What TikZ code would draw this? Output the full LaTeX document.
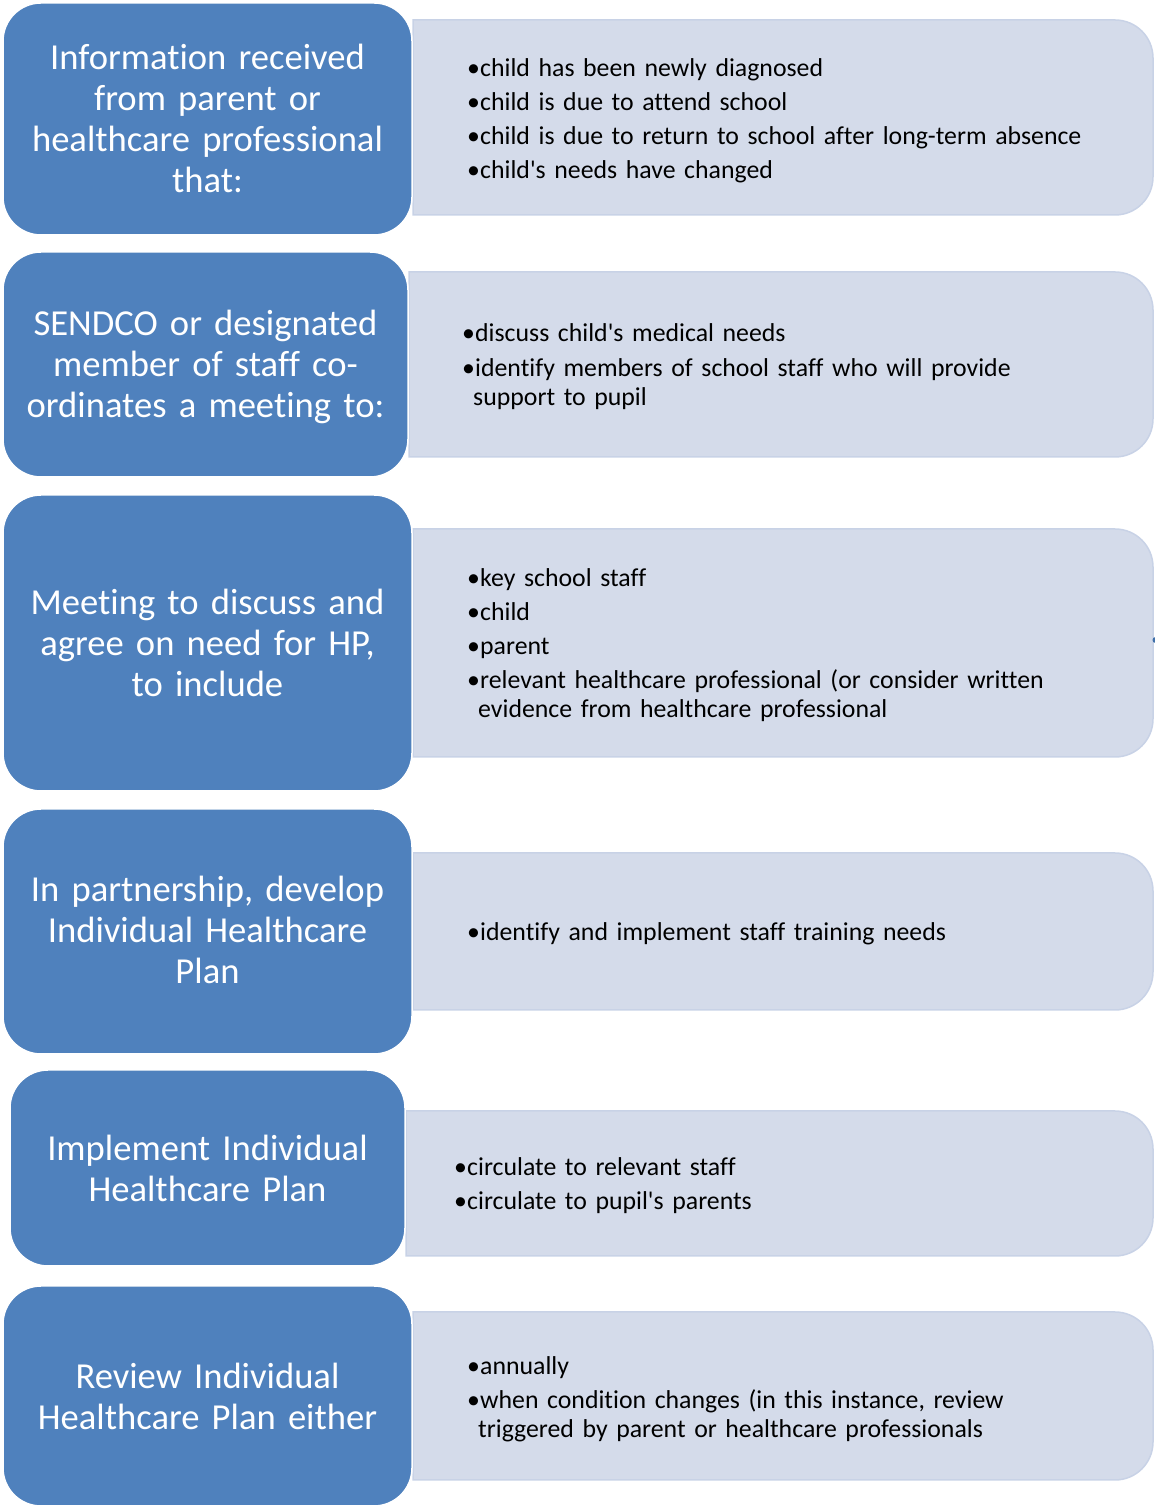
\documentclass[tikz,border=0pt]{standalone}
\usepackage{fontspec}
\setmainfont{Carlito}[Ligatures={CommonOff,TeXOff}]
\definecolor{stepblue}{HTML}{4F81BD}
\definecolor{detailfill}{HTML}{D4DBEA}
\definecolor{detailedge}{HTML}{C8D2E6}
\definecolor{dotblue}{HTML}{3F6FA8}

\tikzset{
  stagebox/.style={draw=white, line width=1.5pt, fill=stepblue, rounded corners=38pt, inner sep=0pt},
  stagetext/.style={text=white, font=\fontsize{36.6}{40.7}\selectfont, align=center,
    text width=400pt, inner sep=0pt, anchor=base},
  detailbox/.style={fill=detailfill, draw=detailedge, line width=1.5pt},
  detailtext/.style={text=black, font=\fontsize{25.8}{29}\selectfont, align=left,
    text width=700pt, inner sep=0pt, anchor=base west},
}
% bullet with hanging text, and the indent of a wrapped line
\newcommand{\bul}{\makebox[13pt][l]{•}}
\newcommand{\cont}{\hspace*{11pt}}
% panel with square left side and rounded right side: x0, top, bottom
\newcommand{\detailpanel}[3]{%
  \path[detailbox] (#1,#2) -- (1115,#2) arc[start angle=90, end angle=0, radius=38pt]
    -- (1153,{#3+38}) arc[start angle=0, end angle=-90, radius=38pt]
    -- (#1,#3) -- cycle;}

\begin{document}
\begin{tikzpicture}[x=1pt, y=1pt]
\useasboundingbox (0,0) rectangle (1155,1508);

% detail panels
\detailpanel{413}{1488}{1293}
\detailpanel{409}{1236}{1051}
\detailpanel{413}{979}{751}
\detailpanel{413}{655}{498}
\detailpanel{406}{397}{252}
\detailpanel{413}{196}{28}
\fill[dotblue] (1155.5,871) arc[start angle=90, end angle=270, radius=3pt] -- cycle;

% stage boxes
\node[stagebox, minimum width=409pt, minimum height=232pt] (s1) at (207.5,1389) {};
\node[stagebox, minimum width=405pt, minimum height=225pt] (s2) at (205.5,1143.5) {};
\node[stagebox, minimum width=409pt, minimum height=296pt] (s3) at (207.5,865) {};
\node[stagebox, minimum width=409pt, minimum height=245pt] (s4) at (207.5,576.5) {};
\node[stagebox, minimum width=395pt, minimum height=196pt] (s5) at (207.5,340) {};
\node[stagebox, minimum width=409pt, minimum height=220pt] (s6) at (207.5,112) {};

% stage labels
\node[stagetext] (t1) at (207.5,1438) {Information received\\from parent or\\healthcare professional\\that:};
\node[stagetext] (t2) at (205.5,1172) {SENDCO or designated\\member of staff co-\\ordinates a meeting to:};
\node[stagetext] (t3) at (207.5,893) {Meeting to discuss and\\agree on need for HP,\\to include};
\node[stagetext] (t4) at (207.5,606) {In partnership, develop\\Individual Healthcare\\Plan};
\node[stagetext] (t5) at (207.5,347) {Implement Individual\\Healthcare Plan};
\node[stagetext] (t6) at (207.5,119) {Review Individual\\Healthcare Plan either};

% detail lists
\node[detailtext] (d1) at (467,1431) {\bul child has been newly diagnosed\\[5pt]
  \bul child is due to attend school\\[5pt]
  \bul child is due to return to school after long-term absence\\[5pt]
  \bul child's needs have changed};
\node[detailtext] (d2) at (462,1166) {\bul discuss child's medical needs\\[6pt]
  \bul identify members of school staff who will provide\\
  \cont support to pupil};
\node[detailtext] (d3) at (467,921) {\bul key school staff\\[5pt]
  \bul child\\[5pt]
  \bul parent\\[5pt]
  \bul relevant healthcare professional (or consider written\\
  \cont evidence from healthcare professional};
\node[detailtext] (d4) at (467,567) {\bul identify and implement staff training needs};
\node[detailtext] (d5) at (454,332) {\bul circulate to relevant staff\\[5pt]
  \bul circulate to pupil's parents};
\node[detailtext] (d6) at (467,133) {\bul annually\\[5pt]
  \bul when condition changes (in this instance, review\\
  \cont triggered by parent or healthcare professionals};
\end{tikzpicture}
\end{document}
